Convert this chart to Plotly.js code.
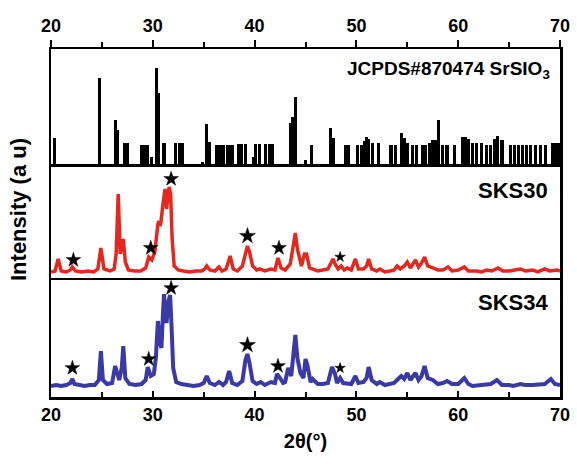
<!DOCTYPE html>
<html>
<head>
<meta charset="utf-8">
<script src="https://cdn.plot.ly/plotly-3.0.1.min.js"></script>
<style>html,body{margin:0;padding:0;background:#fff;}#chart{width:577px;height:467px;}</style>
</head>
<body>
<div id="chart"></div>
<script>
// JCPDS #870474 SrSiO3 reference lines (2theta, relative intensity)
var jcpdsX = [20.3,24.8,26.3,26.5,27.2,27.5,28.9,29.2,29.5,29.9,30.4,30.6,31.1,32.2,32.6,32.9,34.9,35.3,35.6,36.3,36.6,36.9,37.3,37.6,37.8,38.4,38.7,39.1,39.9,40.1,40.5,41.1,41.5,41.8,43.5,43.7,44.0,45.0,45.6,47.5,47.7,48.9,49.2,50.1,50.5,50.8,51.0,51.2,51.6,52.2,53.4,53.8,54.4,54.7,55.0,55.5,55.9,56.5,56.8,57.2,57.5,57.8,58.1,58.5,58.9,59.6,60.4,60.7,61.0,61.4,61.8,62.3,62.8,63.2,63.6,63.9,64.3,65.1,65.5,65.9,66.3,66.7,67.1,67.6,68.1,68.6,69.3,69.6,69.9];
var jcpdsI = [27,87,45,35,22,22,20,20,20,8,97,72,22,22,22,22,3,41,23,20,20,20,20,20,20,21,21,21,8,21,21,21,21,21,42,48,68,5,20,37,27,20,20,20,20,24,28,26,22,22,20,20,32,27,22,20,20,20,20,22,25,25,45,20,20,20,28,28,26,22,22,22,20,20,26,29,25,20,20,20,20,20,20,20,20,20,22,22,22];

// SKS30 pattern
var sks30X = [20.0,20.4,20.7,21.0,21.5,21.9,22.1,22.4,23.0,23.6,24.2,24.6,24.9,25.2,25.8,26.2,26.4,26.6,26.8,27.0,27.1,27.3,27.6,28.2,28.8,29.3,29.6,29.9,30.2,30.5,30.6,30.7,30.8,31.0,31.2,31.35,31.5,31.6,31.75,31.9,32.1,32.5,33.0,33.6,34.2,34.8,35.1,35.3,35.6,36.1,36.5,36.8,37.2,37.6,37.9,38.3,38.8,39.1,39.3,39.5,39.8,40.2,40.5,41.0,41.6,42.0,42.3,42.6,43.0,43.5,43.8,44.0,44.2,44.6,44.9,45.1,45.4,45.7,46.2,46.7,47.2,47.7,47.9,48.2,48.5,48.8,49.1,49.5,49.9,50.2,50.7,51.0,51.2,51.5,52.0,52.3,52.8,53.3,53.7,54.0,54.3,54.7,55.0,55.3,55.8,56.1,56.4,56.7,57.0,57.5,58.0,58.5,59.0,59.4,60.0,60.6,61.0,61.8,62.3,62.8,63.3,63.9,64.4,65.0,65.5,66.1,66.6,67.3,67.8,68.5,69.0,69.7,70.0];
var sks30I = [2,3,15,3,2,4,7,3,2,3,2,5,26,5,3,5,20,80,20,30,35,12,4,3,3,6,17,14,22,50,53,48,52,70,85,65,80,87,80,35,8,4,3,2,3,3,5,8,4,3,7,3,5,18,5,3,8,22,28,22,8,4,5,3,5,4,16,6,4,10,30,41,25,8,20,20,6,5,3,4,5,15,10,5,8,4,6,4,15,5,5,8,15,5,3,5,2,3,4,8,5,8,12,6,14,7,11,17,8,6,4,4,7,3,4,7,3,3,2,4,3,6,3,3,4,5,3,4,2,5,3,4,3];

// SKS34 pattern
var sks34X = [20.0,20.5,21.0,21.5,21.9,22.1,22.3,22.8,23.3,23.8,24.3,24.7,24.9,25.1,25.5,26.0,26.3,26.5,26.7,26.95,27.1,27.3,27.7,28.3,28.9,29.3,29.5,29.8,30.1,30.3,30.5,30.7,30.85,31.0,31.1,31.25,31.35,31.5,31.7,31.85,32.0,32.3,32.8,33.4,34.0,34.6,35.0,35.3,35.6,36.1,36.5,36.9,37.2,37.5,37.8,38.3,38.8,39.1,39.3,39.5,39.8,40.2,40.6,41.0,41.6,42.0,42.2,42.5,42.8,43.0,43.3,43.6,43.8,44.0,44.2,44.5,44.8,45.0,45.2,45.5,45.7,46.2,46.7,47.2,47.6,47.9,48.1,48.4,48.7,49.0,49.5,49.9,50.2,50.7,51.0,51.2,51.5,52.0,52.3,52.8,53.3,53.7,54.0,54.4,54.7,55.0,55.3,55.8,56.1,56.4,56.7,57.0,57.5,58.0,58.5,58.9,59.4,60.0,60.6,61.0,61.4,62.0,62.6,63.2,63.8,64.3,65.0,65.4,66.1,66.6,67.3,68.0,68.5,69.1,69.5,70.0];
var sks34I = [2,3,2,3,5,9,4,3,2,3,3,8,37,8,4,5,22,15,8,20,42,10,4,3,4,8,21,12,14,30,67,45,40,75,94,75,65,85,93,60,20,6,4,3,2,3,5,12,5,3,6,3,6,17,5,3,7,28,34,25,7,4,6,3,6,5,14,10,5,6,20,12,35,53,30,15,10,29,22,6,9,4,4,5,21,14,5,10,5,5,4,12,5,6,10,21,8,4,6,3,4,5,8,12,9,15,8,15,8,12,22,10,8,4,5,7,4,4,10,4,2,3,3,4,8,3,3,2,4,3,3,3,4,9,4,3];

// Star-marked peaks (secondary phase)
var star30X = [22.2, 29.8, 31.8, 39.3, 42.4, 48.4];
var star30Y = [14, 26, 95, 38, 26, 17];
var star34X = [22.1, 29.6, 31.8, 39.3, 42.3, 48.4];
var star34Y = [20, 29, 100, 43, 22, 20];
var starSize = [11, 11, 11, 12, 11, 8];

var tickVals = [20, 30, 40, 50, 60, 70];

var fontFam = 'Liberation Sans, Arial, sans-serif';

var starMarker = {symbol: 'star', color: '#000000', size: starSize, opacity: 1, line: {width: 0.5, color: '#000000'}};

var traces = [
  {type: 'bar', x: jcpdsX, y: jcpdsI, width: 0.3, xaxis: 'x3', yaxis: 'y3',
   marker: {color: '#000000', line: {width: 0}}, hoverinfo: 'x+y'},
  {type: 'scatter', mode: 'lines', x: sks30X, y: sks30I, xaxis: 'x2', yaxis: 'y2',
   line: {color: '#e5281f', width: 3.5}},
  {type: 'scatter', mode: 'lines', x: sks34X, y: sks34I, xaxis: 'x', yaxis: 'y',
   line: {color: '#3a3aa6', width: 4}},
  {type: 'scatter', mode: 'markers', x: star30X, y: star30Y, xaxis: 'x2', yaxis: 'y2', marker: starMarker},
  {type: 'scatter', mode: 'markers', x: star34X, y: star34Y, xaxis: 'x', yaxis: 'y', marker: starMarker}
];

var tickFont = {family: fontFam, size: 18, color: '#000', weight: 'bold'};
var axLine = {showline: true, linewidth: 2.5, linecolor: '#000', mirror: true, showgrid: false, zeroline: false};

var layout = {
  width: 577, height: 467,
  margin: {l: 51, r: 17, t: 49, b: 70},
  paper_bgcolor: '#fff', plot_bgcolor: '#fff',
  showlegend: false,
  bargap: 0,
  xaxis: Object.assign({}, axLine, {
    anchor: 'y', range: [20, 70], tickvals: tickVals, ticks: 'inside', ticklen: 6, tickwidth: 2, tickcolor: '#000',
    minor: {dtick: 5, tick0: 20, ticks: 'inside', ticklen: 5, tickwidth: 2, tickcolor: '#000'},
    tickfont: tickFont,
    title: {text: '2θ(°)', font: {family: fontFam, size: 20, color: '#000', weight: 'bold'}, standoff: 10}
  }),
  xaxis2: Object.assign({}, axLine, {
    anchor: 'y2', range: [20, 70], showticklabels: false, ticks: ''
  }),
  xaxis3: Object.assign({}, axLine, {
    anchor: 'y3', side: 'top', range: [20, 70], tickvals: tickVals, ticks: 'outside', ticklen: 7, tickwidth: 2, tickcolor: '#000',
    minor: {dtick: 5, tick0: 20, ticks: 'outside', ticklen: 5, tickwidth: 2, tickcolor: '#000'},
    tickfont: tickFont
  }),
  yaxis: Object.assign({}, axLine, {domain: [0, 0.336], range: [-9, 108], showticklabels: false, ticks: ''}),
  yaxis2: Object.assign({}, axLine, {domain: [0.342, 0.661], range: [-4, 107], showticklabels: false, ticks: ''}),
  yaxis3: Object.assign({}, axLine, {domain: [0.667, 1], range: [0, 116], showticklabels: false, ticks: ''}),
  annotations: [
    {xref: 'paper', yref: 'paper', x: -0.065, y: 0.54, xanchor: 'center', yanchor: 'middle', textangle: -90,
     text: 'Intensity (a u)', showarrow: false, font: {family: fontFam, size: 22, color: '#000', weight: 'bold'}},
    {xref: 'x3', yref: 'y3 domain', x: 69.2, y: 0.82, xanchor: 'right', yanchor: 'middle',
     text: 'JCPDS#870474 SrSIO<sub>3</sub>', showarrow: false, font: {family: fontFam, size: 19, color: '#000', weight: 'bold'}},
    {xref: 'x2', yref: 'y2 domain', x: 69.0, y: 0.79, xanchor: 'right', yanchor: 'middle',
     text: 'SKS30', showarrow: false, font: {family: fontFam, size: 22, color: '#000', weight: 'bold'}},
    {xref: 'x', yref: 'y domain', x: 69.0, y: 0.81, xanchor: 'right', yanchor: 'middle',
     text: 'SKS34', showarrow: false, font: {family: fontFam, size: 22, color: '#000', weight: 'bold'}}
  ]
};

Plotly.newPlot('chart', traces, layout, {displayModeBar: false, staticPlot: true});
</script>
</body>
</html>
